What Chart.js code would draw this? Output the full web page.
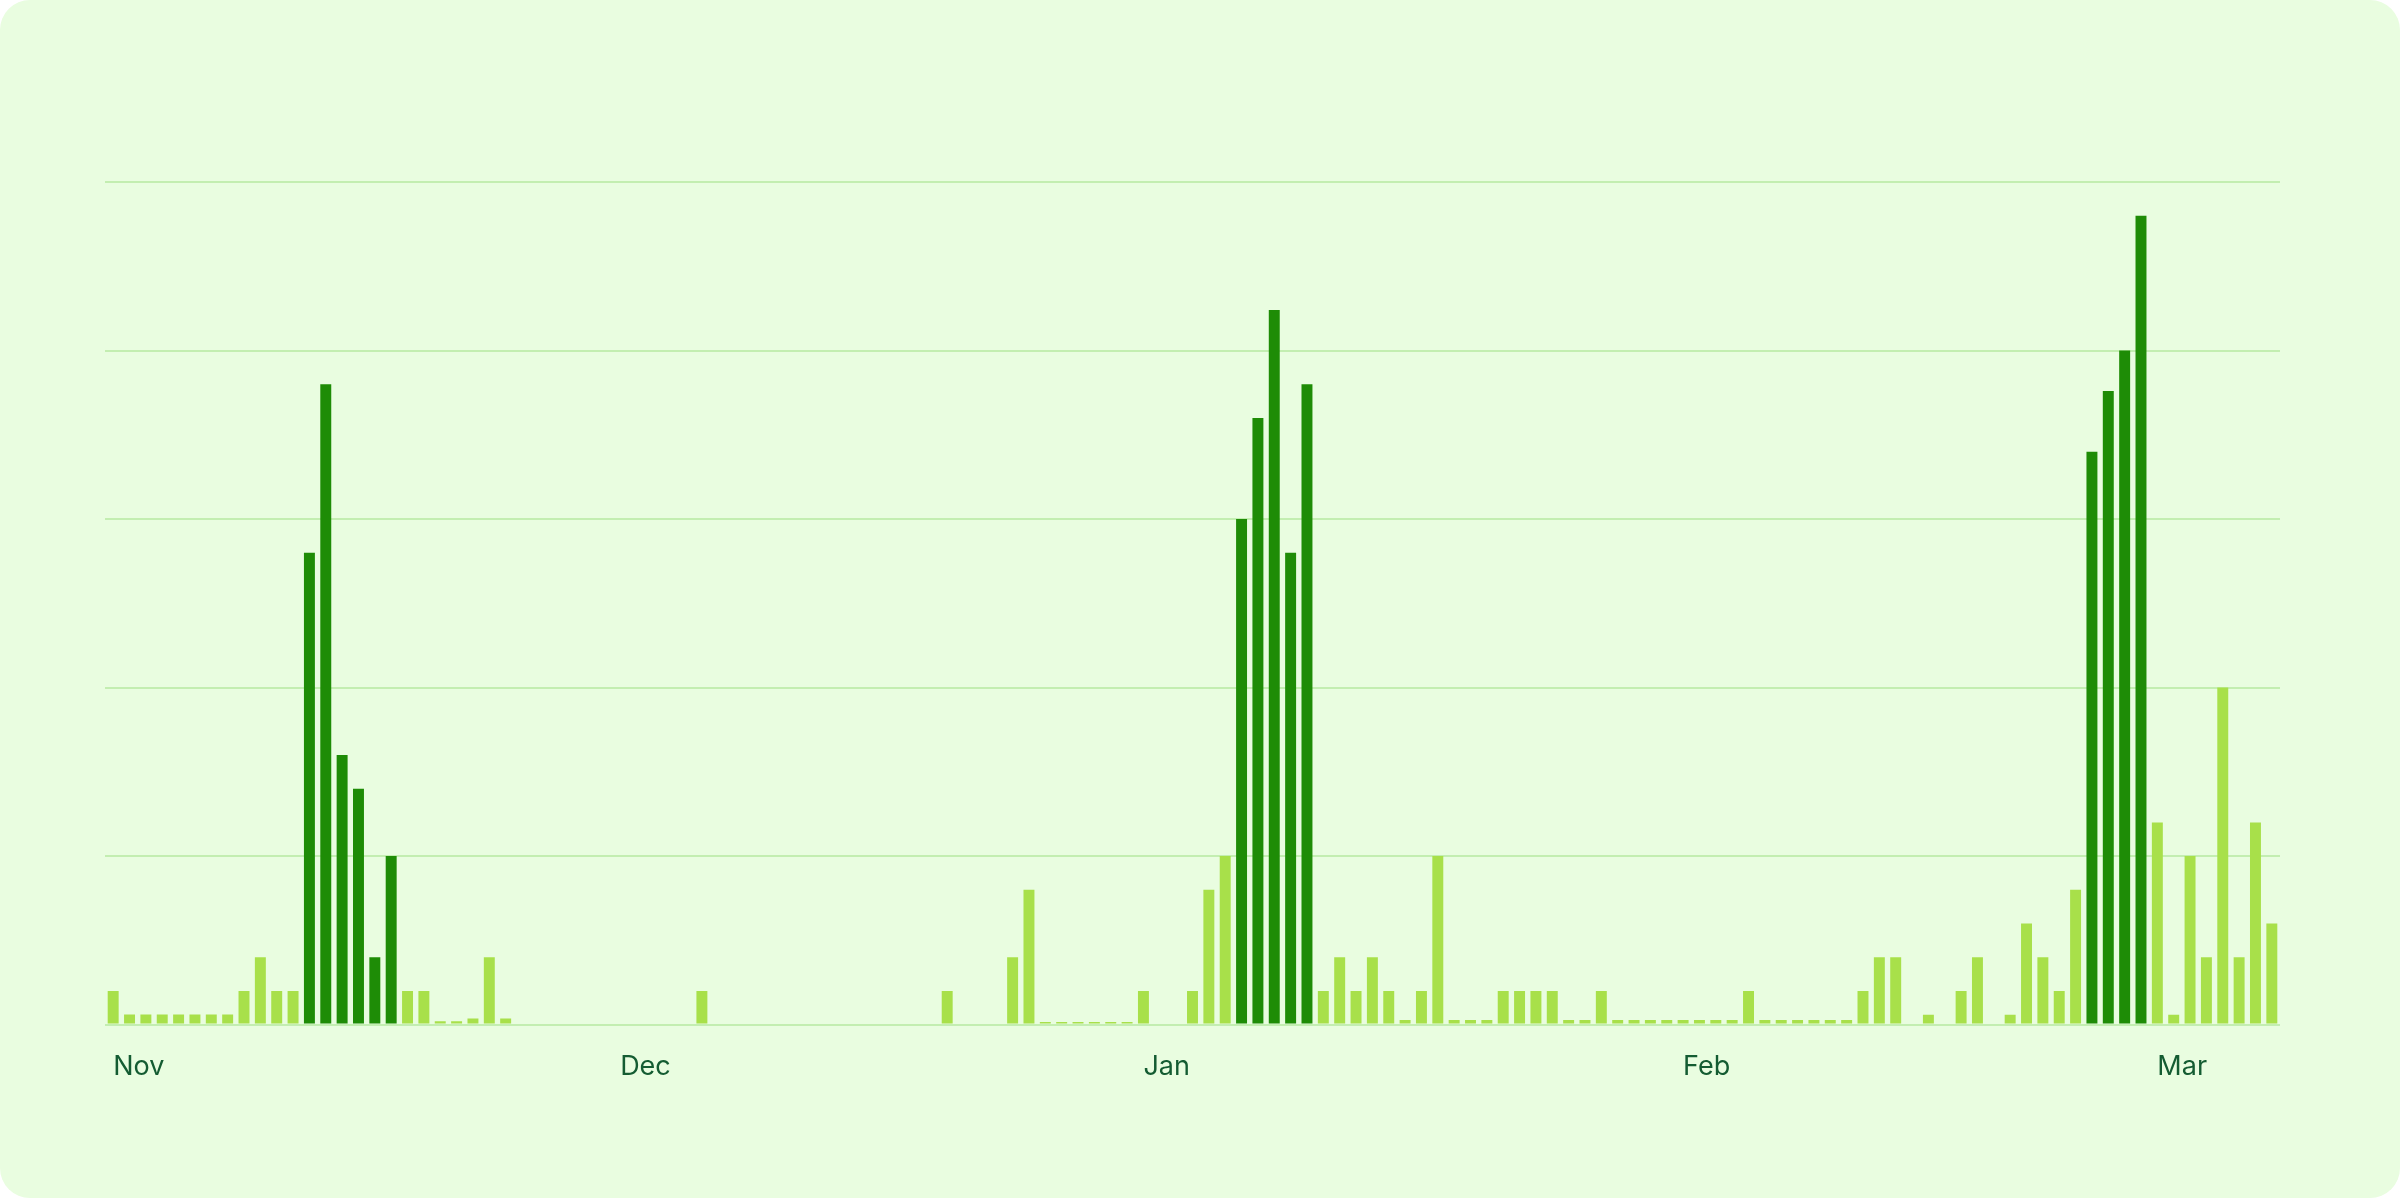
<!DOCTYPE html>
<html>
<head>
<meta charset="utf-8">
<script src="https://cdn.jsdelivr.net/npm/chart.js@4"></script>
<style>
  html, body { margin: 0; padding: 0; background: #ffffff; }
  .card {
    width: 2400px; height: 1198px;
    background: #e9fde0;
    border-radius: 30px;
    position: relative;
  }
</style>
</head>
<body>
<div class="card"><canvas id="chart"></canvas></div>
<script>
// Daily values, Nov through early Mar (133 bars)
const values = [
  1, 0.3, 0.3, 0.3, 0.3, 0.3, 0.3, 0.3, 1, 2, 1, 1,
  14, 19, 8, 7, 2, 5,
  1, 1, 0.1, 0.1, 0.18, 2, 0.18,
  0, 0, 0, 0, 0, 0, 0, 0, 0, 0, 0, 1, 0, 0, 0, 0, 0, 0, 0, 0, 0, 0, 0, 0, 0, 0,
  1, 0, 0, 0, 2, 4, 0.08, 0.08, 0.08, 0.08, 0.08, 0.08, 1, 0, 0, 1, 4, 5,
  15, 18, 21.2, 14, 19,
  1, 2, 1, 2, 1, 0.14, 1, 5, 0.14, 0.14, 0.14, 1, 1, 1, 1, 0.14, 0.14, 1,
  0.14, 0.14, 0.14, 0.14, 0.14, 0.14, 0.14, 0.14, 1,
  0.14, 0.14, 0.14, 0.14, 0.14, 0.14, 1, 2, 2, 0, 0.29, 0, 1, 2, 0, 0.29, 3, 2, 1, 4,
  17, 18.8, 20, 24,
  6, 0.29, 5, 2, 10, 2, 6, 3
];
// Indices of highlighted (dark) bars
const highlighted = [12, 13, 14, 15, 16, 17, 69, 70, 71, 72, 73, 121, 122, 123, 124];
// Month labels and the bar index they sit on
const monthLabels = ['Nov', 'Dec', 'Jan', 'Feb', 'Mar'];
const monthIndex = [0, 31, 63, 96, 125];
const yTicks = [0, 5, 10, 15, 20, 25];

const labels = values.map((v, i) => {
  const k = monthIndex.indexOf(i);
  return k >= 0 ? monthLabels[k] : '';
});
const colors = values.map((v, i) => highlighted.includes(i) ? '#1e8c06' : '#a8e04a');

new Chart(document.getElementById('chart'), {
  type: 'bar',
  data: {
    labels: labels,
    datasets: [{
      data: values,
      backgroundColor: colors,
      barPercentage: 0.67,
      categoryPercentage: 1
    }]
  },
  options: {
    responsive: true,
    maintainAspectRatio: false,
    devicePixelRatio: 1,
    animation: false,
    layout: { padding: { left: 105, right: 120, top: 182, bottom: 97 } },
    plugins: { legend: { display: false }, tooltip: { enabled: false } },
    scales: {
      x: {
        grid: { display: false },
        border: { display: false },
        ticks: {
          autoSkip: false,
          maxRotation: 0,
          align: 'start',
          padding: 18,
          color: '#145c32',
          font: { family: 'Inter', size: 27 }
        }
      },
      y: {
        min: 0,
        max: 25,
        afterBuildTicks: axis => { axis.ticks = yTicks.map(v => ({ value: v })); },
        grid: { color: '#c3eeb1', lineWidth: 2, drawTicks: false },
        border: { display: false },
        ticks: { display: false }
      }
    }
  }
});
</script>
</body>
</html>
